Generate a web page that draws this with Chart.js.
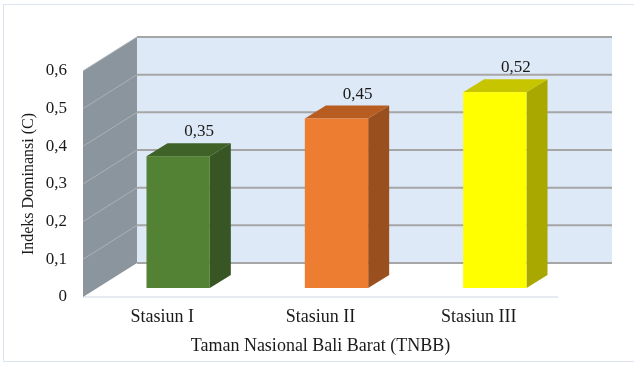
<!DOCTYPE html>
<html>
<head>
<meta charset="utf-8">
<script src="https://cdn.jsdelivr.net/npm/chart.js@4.4.1/dist/chart.umd.min.js"></script>
<style>
  html, body { margin: 0; padding: 0; background: #fff; }
  #wrap { position: relative; width: 634px; height: 365px; }
  #frame { position: absolute; left: 3px; top: 4px; width: 640px; height: 358px; border: 1px solid #dde3ec; box-sizing: border-box; }
  canvas { position: absolute; left: 0; top: 0; }
</style>
</head>
<body>
<div id="wrap">
  <div id="frame"></div>
  <canvas id="chart" width="634" height="365"></canvas>
</div>
<script>
const stations = ["Stasiun I", "Stasiun II", "Stasiun III"];
const dominance = [0.35, 0.45, 0.52];
const yTicks = [0, 0.1, 0.2, 0.3, 0.4, 0.5, 0.6];

const faceColors = ["#548235", "#ed7d31", "#ffff00"];
const sideColors = ["#375623", "#9a4f1e", "#a8a800"];
const topColors  = ["#3e6228", "#b85d22", "#c6c500"];

// depth offsets (px): wall = full depth, bar front / bar back
const wall = { dx: 54, dy: -34 };
const barFront = { dx: 16, dy: -9 };
const barBack = { dx: 37, dy: -22 };

const comma = (v, d) => v === 0 ? "0" : v.toFixed(d).replace(".", ",");

const box3d = {
  id: "box3d",
  beforeDatasetsDraw(chart) {
    const { ctx, chartArea: a, scales: { y } } = chart;
    ctx.save();
    // floor
    ctx.fillStyle = "#ffffff";
    ctx.beginPath();
    ctx.moveTo(a.left, a.bottom);
    ctx.lineTo(a.right, a.bottom);
    ctx.lineTo(a.right + wall.dx, a.bottom + wall.dy);
    ctx.lineTo(a.left + wall.dx, a.bottom + wall.dy);
    ctx.closePath();
    ctx.fill();
    ctx.strokeStyle = "#dfe4ec";
    ctx.lineWidth = 1.5;
    ctx.beginPath();
    ctx.moveTo(a.left, a.bottom);
    ctx.lineTo(a.right, a.bottom);
    ctx.stroke();
    // back wall
    ctx.fillStyle = "#dde9f6";
    ctx.fillRect(a.left + wall.dx, a.top + wall.dy, a.right - a.left, a.bottom - a.top);
    // side wall
    ctx.fillStyle = "#8b959d";
    ctx.beginPath();
    ctx.moveTo(a.left, a.top);
    ctx.lineTo(a.left + wall.dx, a.top + wall.dy);
    ctx.lineTo(a.left + wall.dx, a.bottom + wall.dy);
    ctx.lineTo(a.left, a.bottom);
    ctx.closePath();
    ctx.fill();
    // grid lines
    yTicks.forEach(v => {
      const py = y.getPixelForValue(v);
      ctx.strokeStyle = "#a6a6a6";
      ctx.lineWidth = 2;
      ctx.beginPath();
      ctx.moveTo(a.left + wall.dx, py + wall.dy);
      ctx.lineTo(a.right + wall.dx, py + wall.dy);
      ctx.stroke();
      if (v > 0) {
        ctx.strokeStyle = "#aab1b8";
        ctx.lineWidth = 1;
        ctx.beginPath();
        ctx.moveTo(a.left, py);
        ctx.lineTo(a.left + wall.dx, py + wall.dy);
        ctx.stroke();
      }
    });
    ctx.restore();
  },
  afterDatasetsDraw(chart) {
    const { ctx } = chart;
    const meta = chart.getDatasetMeta(0);
    ctx.save();
    meta.data.forEach((bar, i) => {
      const half = bar.width / 2;
      const l = bar.x - half + barFront.dx, r = bar.x + half + barFront.dx;
      const t = bar.y + barFront.dy, b = bar.base + barFront.dy;
      const sx = barBack.dx - barFront.dx, sy = barBack.dy - barFront.dy;
      // side
      ctx.fillStyle = sideColors[i];
      ctx.beginPath();
      ctx.moveTo(r, t); ctx.lineTo(r + sx, t + sy); ctx.lineTo(r + sx, b + sy); ctx.lineTo(r, b);
      ctx.closePath(); ctx.fill();
      // top
      ctx.fillStyle = topColors[i];
      ctx.beginPath();
      ctx.moveTo(l, t); ctx.lineTo(l + sx, t + sy); ctx.lineTo(r + sx, t + sy); ctx.lineTo(r, t);
      ctx.closePath(); ctx.fill();
      // front
      ctx.fillStyle = faceColors[i];
      ctx.fillRect(l, t, r - l, b - t);
      // value label
      ctx.fillStyle = "#1a1a1a";
      ctx.font = "17px 'Liberation Serif', 'Times New Roman', serif";
      ctx.textAlign = "center";
      ctx.textBaseline = "alphabetic";
      ctx.fillText(comma(dominance[i], 2), (l + r) / 2 + sx, t + sy - 7);
    });
    ctx.restore();
  }
};

const serifFamily = "'Liberation Serif', 'Times New Roman', serif";

new Chart(document.getElementById("chart"), {
  type: "bar",
  data: {
    labels: stations,
    datasets: [{
      data: dominance,
      backgroundColor: "rgba(0,0,0,0)",
      barPercentage: 0.8,
      categoryPercentage: 0.5
    }]
  },
  options: {
    responsive: false,
    animation: false,
    layout: { padding: { left: 0, right: 76, top: 71, bottom: 0 } },
    plugins: { legend: { display: false }, tooltip: { enabled: false } },
    scales: {
      x: {
        grid: { display: false, drawTicks: false },
        border: { display: false },
        ticks: { color: "#1a1a1a", font: { family: serifFamily, size: 18 }, padding: 9 },
        title: { display: true, text: "Taman Nasional Bali Barat (TNBB)", color: "#1a1a1a", font: { family: serifFamily, size: 18 }, padding: { top: 0, bottom: 8 } },
        afterFit: s => { s.height = 68; }
      },
      y: {
        min: 0, max: 0.6,
        grid: { display: false, drawTicks: false },
        border: { display: false },
        ticks: { stepSize: 0.1, color: "#1a1a1a", font: { family: serifFamily, size: 17 }, padding: 16, callback: v => comma(v, 1) },
        title: { display: true, text: "Indeks Dominansi (C)", color: "#1a1a1a", font: { family: serifFamily, size: 16 }, padding: { top: 19, bottom: 0 } },
        afterFit: s => { s.width = 83; }
      }
    }
  },
  plugins: [box3d]
});
</script>
</body>
</html>
